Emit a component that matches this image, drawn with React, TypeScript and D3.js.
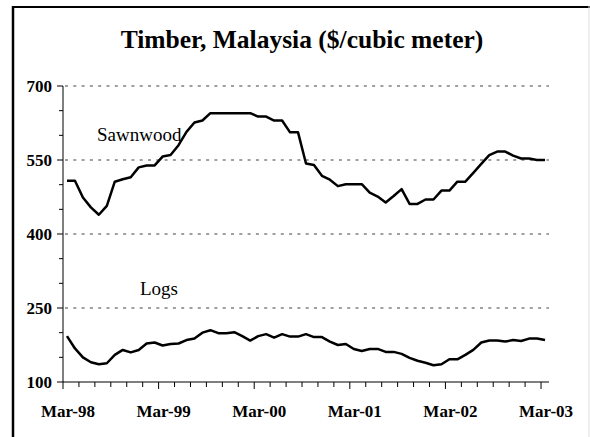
import React, { useEffect, useRef } from 'react';
import * as d3 from 'd3';

// monthly, Mar-98 .. Mar-03
const sawnwood = [
  508, 508, 474, 454, 439, 457, 506, 511, 515, 535, 539, 539,
  557, 560, 580, 607, 626, 630, 645, 645, 645, 645, 645, 645,
  638, 638, 630, 630, 606, 606, 543, 540, 518, 510, 497, 501,
  501, 501, 484, 476, 464, 477, 491, 461, 461, 470, 470, 488,
  488, 506, 506, 524, 542, 560, 567, 567, 559, 553, 553, 550,
  550,
];
const logs = [
  193, 168, 150, 140, 136, 138, 155, 165, 160, 165, 178, 180,
  174, 177, 178, 185, 188, 200, 205, 199, 199, 201, 193, 184,
  193, 197, 190, 197, 192, 192, 197, 191, 191, 182, 175, 177,
  167, 163, 167, 167, 161, 161, 157, 149, 143, 139, 134, 136,
  146, 146, 155, 165, 180, 184, 184, 182, 185, 183, 188, 188,
  185,
];
const xLabels = ['Mar-98', 'Mar-99', 'Mar-00', 'Mar-01', 'Mar-02', 'Mar-03'];
const yTicks = [100, 250, 400, 550, 700];
const gridValues = [250, 400, 550, 700];
const seriesNames = ['Sawnwood', 'Logs'];
const title = 'Timber, Malaysia ($/cubic meter)';

const W = 590;
const H = 437;
const FONT = '"Liberation Serif", "Times New Roman", serif';

const App = () => {
  const svgRef = useRef<SVGSVGElement>(null);

  useEffect(() => {
    const svg = d3.select(svgRef.current);
    svg.selectAll('*').remove();

    const left = 63, right = 549, top = 86, bottom = 382;

    const x = d3.scaleLinear().domain([0, sawnwood.length]).range([left, right]);
    const y = d3.scaleLinear().domain([100, 700]).range([bottom, top]);

    // frame
    svg.append('line').attr('x1', 13).attr('x2', 13).attr('y1', 6).attr('y2', H)
      .attr('stroke', '#000').attr('stroke-width', 2.5);
    svg.append('line').attr('x1', 12).attr('x2', W).attr('y1', 7).attr('y2', 7)
      .attr('stroke', '#000').attr('stroke-width', 2);
    svg.append('line').attr('x1', 589).attr('x2', 589).attr('y1', 6).attr('y2', H)
      .attr('stroke', '#ddd').attr('stroke-width', 1);

    // title
    svg.append('text')
      .attr('x', 302).attr('y', 48)
      .attr('text-anchor', 'middle')
      .attr('font-family', FONT).attr('font-weight', 'bold').attr('font-size', 25.5)
      .text(title);

    // gridlines
    svg.append('g').selectAll('line').data(gridValues).join('line')
      .attr('x1', left + 2).attr('x2', right)
      .attr('y1', d => y(d)).attr('y2', d => y(d))
      .attr('stroke', '#808080').attr('stroke-width', 1.6)
      .attr('stroke-dasharray', '3,5.3');

    // y axis
    const yAxis = svg.append('g');
    yAxis.append('line').attr('x1', left).attr('x2', left).attr('y1', top).attr('y2', bottom)
      .attr('stroke', '#000').attr('stroke-width', 1);
    yAxis.selectAll('line.tk').data(d3.range(100, 701, 50)).join('line')
      .attr('class', 'tk')
      .attr('x1', d => (yTicks.includes(d) ? left - 6 : left - 4)).attr('x2', left)
      .attr('y1', d => y(d)).attr('y2', d => y(d))
      .attr('stroke', '#000').attr('stroke-width', 1);
    yAxis.selectAll('text').data(yTicks).join('text')
      .attr('x', 52).attr('y', d => y(d) + 6)
      .attr('text-anchor', 'end')
      .attr('font-family', FONT).attr('font-weight', 'bold').attr('font-size', 17)
      .text(d => d);

    // x axis
    const xAxis = svg.append('g');
    xAxis.append('line').attr('x1', left).attr('x2', right).attr('y1', bottom).attr('y2', bottom)
      .attr('stroke', '#000').attr('stroke-width', 1);
    xAxis.selectAll('line.tk').data(d3.range(0, sawnwood.length, 2)).join('line')
      .attr('class', 'tk')
      .attr('x1', d => x(d)).attr('x2', d => x(d))
      .attr('y1', bottom).attr('y2', d => (d % 12 === 0 ? bottom + 7 : bottom + 5))
      .attr('stroke', '#000').attr('stroke-width', 1);
    xAxis.selectAll('text').data(xLabels).join('text')
      .attr('x', (d, i) => x(i * 12 + 0.5) + 1)
      .attr('y', 417)
      .attr('text-anchor', 'middle')
      .attr('font-family', FONT).attr('font-weight', 'bold').attr('font-size', 17)
      .text(d => d);

    // lines
    const line = d3.line<number>()
      .x((d, i) => x(i + 0.5))
      .y(d => y(d));

    [sawnwood, logs].forEach(s => {
      svg.append('path')
        .datum(s)
        .attr('fill', 'none')
        .attr('stroke', '#000')
        .attr('stroke-width', 2.5)
        .attr('stroke-linejoin', 'round')
        .attr('d', line);
    });

    // series labels
    svg.append('text').attr('x', 97).attr('y', 141)
      .attr('font-family', FONT).attr('font-size', 19)
      .text(seriesNames[0]);
    svg.append('text').attr('x', 140).attr('y', 295)
      .attr('font-family', FONT).attr('font-size', 19)
      .text(seriesNames[1]);
  }, []);

  return (
    <div style={{ position: 'absolute', left: 0, top: 0 }}>
      <svg ref={svgRef} width={W} height={H} style={{ display: 'block', background: '#fff' }}></svg>
    </div>
  );
};

export default App;
